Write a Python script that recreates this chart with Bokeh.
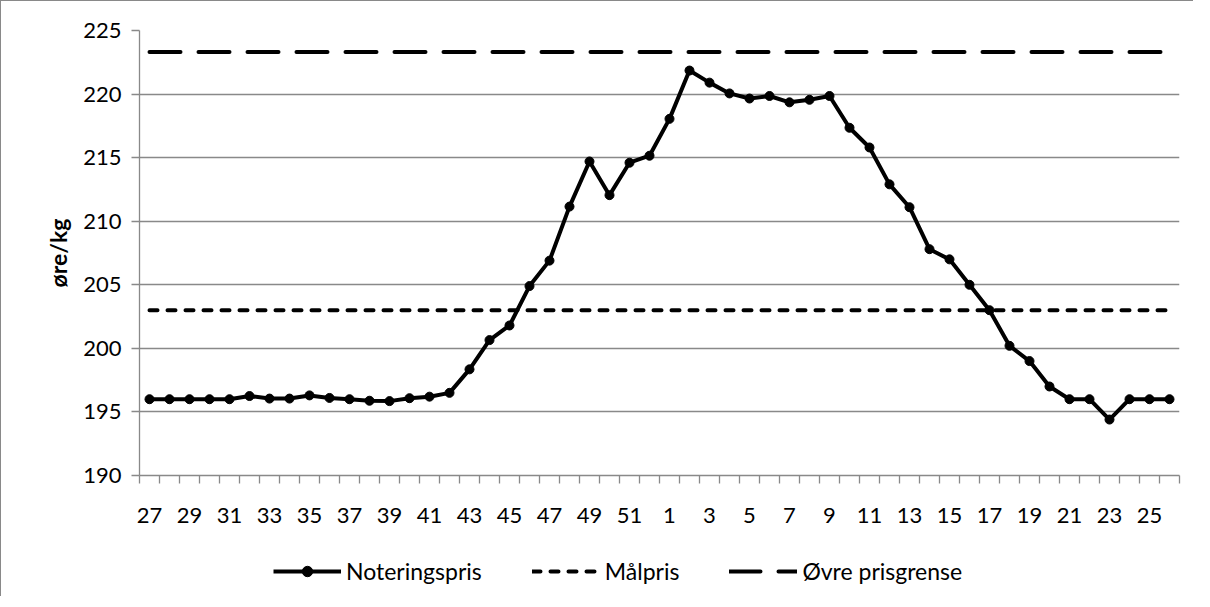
import numpy as np
from bokeh.plotting import figure
from bokeh.models import FixedTicker, Legend, LegendItem, Range1d
from bokeh.layouts import column
from bokeh.embed import file_html
from bokeh.resources import INLINE

weeks = ["27", "28", "29", "30", "31", "32", "33", "34", "35", "36", "37", "38", "39",
         "40", "41", "42", "43", "44", "45", "46", "47", "48", "49", "50", "51", "52",
         "1", "2", "3", "4", "5", "6", "7", "8", "9", "10", "11", "12", "13",
         "14", "15", "16", "17", "18", "19", "20", "21", "22", "23", "24", "25", "26"]

noteringspris = [196.0, 196.0, 196.0, 196.0, 196.0, 196.25, 196.05, 196.05, 196.3, 196.1, 196.0, 195.88, 195.85,
                 196.08, 196.2, 196.5, 198.35, 200.65, 201.8, 204.9, 206.9, 211.15, 214.7, 212.05, 214.6, 215.15,
                 218.05, 221.85, 220.9, 220.05, 219.65, 219.85, 219.35, 219.55, 219.85, 217.35, 215.8, 212.9, 211.1,
                 207.8, 207.0, 205.0, 203.0, 200.2, 199.0, 197.0, 196.0, 196.0, 194.4, 196.0, 196.0, 196.0]

malpris = [203.0] * len(weeks)
ovre_prisgrense = [223.3] * len(weeks)

y_ticks = [190, 195, 200, 205, 210, 215, 220, 225]
series_names = ["Noteringspris", "Målpris", "Øvre prisgrense"]

FONT = "Lato"
GRAY = "#898989"

n = len(weeks)
xs = np.arange(n) + 0.5


def draw_series(fig):
    r_ovre = fig.line(xs, ovre_prisgrense, line_color="black", line_width=4,
                      line_dash="31 18", line_cap="round")
    r_mal = fig.line(xs, malpris, line_color="black", line_width=4,
                     line_dash="8 10", line_cap="round")
    r_line = fig.line(xs, noteringspris, line_color="black", line_width=4, line_join="round")
    r_pts = fig.scatter(xs, noteringspris, size=9, fill_color="black", line_color="black")
    return r_line, r_pts, r_mal, r_ovre


# ---- main chart ----
p = figure(frame_width=1039, frame_height=444, output_backend="svg", toolbar_location=None,
           x_range=Range1d(0, n), y_range=Range1d(190, 225),
           min_border_left=138, min_border_right=15, min_border_top=29, min_border_bottom=62)
p.stylesheets = [":host { border-left: 1px solid #898989; border-top: 1px solid #898989; }"]
p.outline_line_color = None
p.background_fill_color = "white"
p.border_fill_color = "white"

p.xgrid.grid_line_color = None
p.ygrid.grid_line_color = GRAY
p.ygrid.grid_line_width = 1.3

p.yaxis.ticker = FixedTicker(ticks=y_ticks)
p.yaxis.axis_line_color = GRAY
p.yaxis.axis_line_width = 1.3
p.yaxis.major_tick_line_color = GRAY
p.yaxis.major_tick_line_width = 1.3
p.yaxis.major_tick_out = 8
p.yaxis.major_tick_in = 0
p.yaxis.minor_tick_line_color = None
p.yaxis.major_label_text_font = FONT
p.yaxis.major_label_text_font_size = "22px"
p.yaxis.major_label_text_color = "black"
p.yaxis.major_label_standoff = 10
p.yaxis.axis_label = "øre/kg"
p.yaxis.axis_label_text_font = FONT
p.yaxis.axis_label_text_font_style = "bold"
p.yaxis.axis_label_text_font_size = "23px"
p.yaxis.axis_label_text_color = "black"
p.yaxis.axis_label_standoff = 8

label_pos = [float(x) for x in xs[::2]]
p.xaxis.ticker = FixedTicker(ticks=label_pos, minor_ticks=[float(i) for i in range(n + 1)])
p.xaxis.major_label_overrides = {float(xs[i]): weeks[i] for i in range(0, n, 2)}
p.xaxis.axis_line_color = GRAY
p.xaxis.axis_line_width = 1.3
p.xaxis.major_tick_line_color = None
p.xaxis.minor_tick_line_color = GRAY
p.xaxis.minor_tick_line_width = 1.3
p.xaxis.minor_tick_out = 8
p.xaxis.minor_tick_in = 0
p.xaxis.major_label_text_font = FONT
p.xaxis.major_label_text_font_size = "22px"
p.xaxis.major_label_text_color = "black"
p.xaxis.major_label_standoff = 24

draw_series(p)

# ---- legend strip (same series styles, data kept out of its view) ----
lg = figure(frame_width=1039, frame_height=60, output_backend="svg", toolbar_location=None,
            x_range=Range1d(0, n), y_range=Range1d(0, 1),
            min_border_left=138, min_border_right=15, min_border_top=0, min_border_bottom=0)
lg.stylesheets = [":host { border-left: 1px solid #898989; }"]
lg.outline_line_color = None
lg.axis.visible = False
lg.grid.visible = False
lg.background_fill_color = "white"
lg.border_fill_color = "white"
l_line, l_pts, l_mal, l_ovre = draw_series(lg)

legend = Legend(items=[
    LegendItem(label=series_names[0], renderers=[l_line, l_pts]),
    LegendItem(label=series_names[1], renderers=[l_mal]),
    LegendItem(label=series_names[2], renderers=[l_ovre]),
], orientation="horizontal", location=(134, 11))
legend.label_text_font = FONT
legend.label_text_font_size = "23px"
legend.label_text_color = "black"
legend.label_height = 26
legend.glyph_width = 68
legend.glyph_height = 26
legend.label_standoff = 5
legend.spacing = 50
legend.padding = 0
legend.margin = 0
legend.border_line_color = None
legend.background_fill_alpha = 0
lg.add_layout(legend)

layout = column(p, lg, spacing=0)
open("out.html", "w").write(file_html(layout, INLINE))
